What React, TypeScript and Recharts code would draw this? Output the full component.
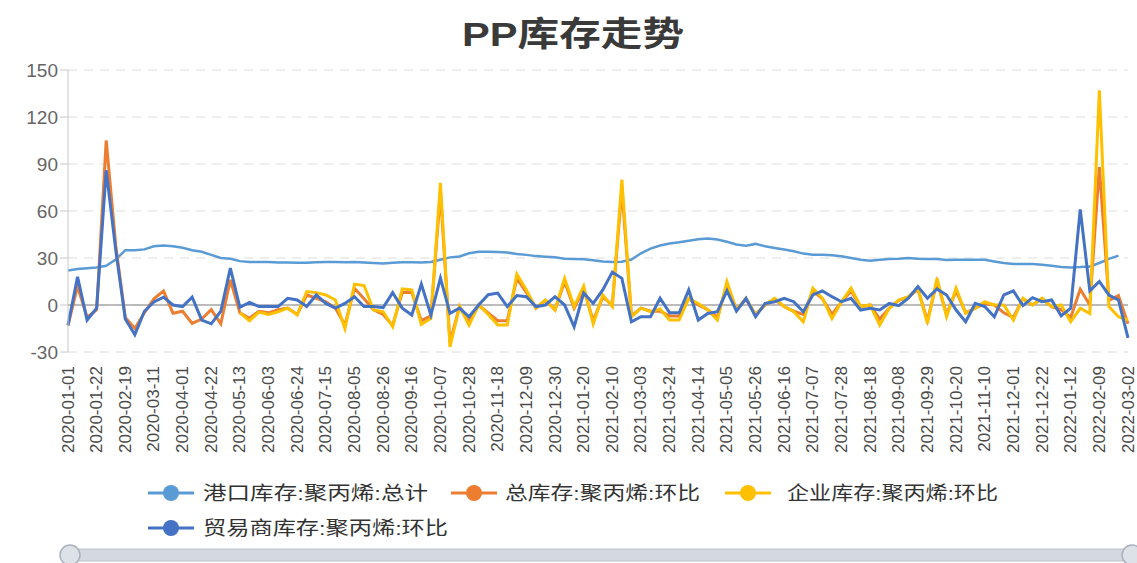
import { LineChart, Line, XAxis, YAxis, CartesianGrid, ReferenceLine } from 'recharts';

// 周度日期（春节周缺失）
const dates = [
  '2020-01-01', '2020-01-08', '2020-01-15', '2020-01-22', '2020-02-05', '2020-02-12', '2020-02-19', '2020-02-26',
  '2020-03-04', '2020-03-11', '2020-03-18', '2020-03-25', '2020-04-01', '2020-04-08', '2020-04-15', '2020-04-22',
  '2020-04-29', '2020-05-06', '2020-05-13', '2020-05-20', '2020-05-27', '2020-06-03', '2020-06-10', '2020-06-17',
  '2020-06-24', '2020-07-01', '2020-07-08', '2020-07-15', '2020-07-22', '2020-07-29', '2020-08-05', '2020-08-12',
  '2020-08-19', '2020-08-26', '2020-09-02', '2020-09-09', '2020-09-16', '2020-09-23', '2020-09-30', '2020-10-07',
  '2020-10-14', '2020-10-21', '2020-10-28', '2020-11-04', '2020-11-11', '2020-11-18', '2020-11-25', '2020-12-02',
  '2020-12-09', '2020-12-16', '2020-12-23', '2020-12-30', '2021-01-06', '2021-01-13', '2021-01-20', '2021-01-27',
  '2021-02-03', '2021-02-10', '2021-02-17', '2021-02-24', '2021-03-03', '2021-03-10', '2021-03-17', '2021-03-24',
  '2021-03-31', '2021-04-07', '2021-04-14', '2021-04-21', '2021-04-28', '2021-05-05', '2021-05-12', '2021-05-19',
  '2021-05-26', '2021-06-02', '2021-06-09', '2021-06-16', '2021-06-23', '2021-06-30', '2021-07-07', '2021-07-14',
  '2021-07-21', '2021-07-28', '2021-08-04', '2021-08-11', '2021-08-18', '2021-08-25', '2021-09-01', '2021-09-08',
  '2021-09-15', '2021-09-22', '2021-09-29', '2021-10-06', '2021-10-13', '2021-10-20', '2021-10-27', '2021-11-03',
  '2021-11-10', '2021-11-17', '2021-11-24', '2021-12-01', '2021-12-08', '2021-12-15', '2021-12-22', '2021-12-29',
  '2022-01-05', '2022-01-12', '2022-01-19', '2022-01-26', '2022-02-09', '2022-02-16', '2022-02-23', '2022-03-02',
];

// 港口库存:聚丙烯:总计
const portTotal = [
  22, 23, 23.5, 24, 25, 29, 35, 35, 35.5, 37.5, 38, 37.5, 36.5, 35, 34, 32,
  30, 29.5, 28, 27.5, 27.5, 27.5, 27.2, 27.2, 27, 27, 27.3, 27.5, 27.5, 27.3, 27.5, 27.2,
  26.8, 26.5, 27, 27.3, 27.3, 27.2, 27.4, 28.9, 30.4, 31, 33, 34, 34, 33.8, 33.5, 32.6,
  32, 31.2, 30.8, 30.5, 29.5, 29.3, 29.2, 28.5, 27.8, 27.4, 27.6, 29, 33, 36, 38, 39.2,
  40, 41, 42, 42.4, 41.8, 40.4, 38.6, 37.9, 39, 37.5, 36.4, 35.4, 34.3, 32.8, 32.1, 32.1,
  31.7, 31.1, 30, 28.9, 28.3, 28.9, 29.4, 29.6, 30, 29.6, 29.4, 29.4, 28.8, 28.9, 28.9, 28.9,
  28.9, 27.8, 26.8, 26.2, 26.1, 26.1, 25.7, 25, 24.2, 24, 24.2, 24.6, 26.8, 29.4, 31.5, null,
];

// 总库存:聚丙烯:环比
const totalChange = [
  -13, 12, -8, -3, 105, 38, -8, -15, -5, 4, 9, -5.3, -4, -11.8, -9, -3,
  -12, 16, -5, -8.5, -4, -5, -3, -2, -6, 6.4, 4.3, 2, -2, -12.8, 10.7, 4,
  -3, -6, -13, 8, 8, -10, -7, 72, -24, -1, -11, 0, -5, -10, -10, 17,
  8, -2, 3, -3, 15, -2, 10, -10, 5, 0, 74, -7, -2, -4, -4, -7,
  -7, 4, 0, -3, -8, 13, -3, 3.5, -6, 0, 3.5, -1, -4, -6, 9, 4,
  -6, 2, 9, -1, 0, -9, -2, 3, 5, 10, -10, 15, -6, 9, -5, -2,
  1, 0, -5, -8, 4, 0, 4, -1, -3, -8, 10, 0, 88, 3, 6, -12,
];

// 企业库存:聚丙烯:环比
const enterpriseChange = [
  null, null, null, null, null, null, null, null, null, null, null, null, null, null, null, null,
  null, null, -5, -10, -4.6, -6, -4.3, -2, -6.4, 8.6, 7.9, 6.4, 3.2, -15, 13.3, 12.4,
  -3.2, -4.3, -13.9, 10.3, 9.6, -12.4, -8.6, 78, -26.8, -1, -12.8, 0, -6, -12.8, -12.8, 19.7,
  9.6, -2, 3.2, -3.2, 17, -1, 12, -12, 6.4, -1, 80, -7.5, -2, -4.3, -2.5, -9.6,
  -9.6, 4.3, 1, -3.2, -9.6, 15, -3.2, 4.3, -6.4, 0.4, 4.3, -1, -4.3, -10.7, 10.7, 4.3,
  -8.6, 2.1, 10.7, -1, 0, -12.8, -2.1, 3.2, 5.3, 10.7, -11.8, 17.1, -7.5, 10.7, -5.4, -2.1,
  2.1, 0, 0, -9.6, 4.3, 0, 4.3, -1, 0, -10.7, -2.1, -5.4, 137, -1, -7.5, -9.6,
];

// 贸易商库存:聚丙烯:环比
const traderChange = [
  -13, 18, -9.6, -2, 86, 35, -9, -19, -4, 2, 5, 0, -1, 5, -9.6, -12,
  -4, 23.6, -1.5, 1.7, -1, -1, -1, 4.3, 3.2, -1, 6.4, 1, -2, 1, 5.3, -1,
  -1, -1.7, 7.9, -2, -6.4, 13.3, -6.4, 17.1, -5.3, -2, -7.5, 0, 6.6, 7.6, -1, 6,
  5.3, -1, 0, 5.3, 0, -13.9, 7.6, 1, 9.6, 21, 17, -10.7, -7.5, -7.5, 4.3, -5,
  -5, 9.6, -9.6, -5.4, -4.3, 9, -3.9, 4.3, -7.5, 1, 2.1, 4.3, 2.1, -4.3, 6.4, 9,
  5.3, 2.1, 4.3, -3.2, -2.1, -3.2, 1, -0.4, 4.3, 11.8, 4.3, 10.3, 6.4, -3.2, -10.7, 1,
  -1, -7.5, 6.4, 9, -0.4, 4.7, 2.1, 3.2, -6.9, -2.1, 61, 9, 15, 6.4, 3.2, -21,
];

const yTicks = [-30, 0, 30, 60, 90, 120, 150];

const seriesNames = ['港口库存:聚丙烯:总计', '总库存:聚丙烯:环比', '企业库存:聚丙烯:环比', '贸易商库存:聚丙烯:环比'];
const seriesColors = ['#5b9bd5', '#ed7d31', '#ffc000', '#4472c4'];

const font = "'Liberation Sans', 'Noto Sans CJK SC', sans-serif";

const chartData = dates.map((d, i) => ({
  date: d,
  port: portTotal[i],
  total: totalChange[i],
  enterprise: enterpriseChange[i],
  trader: traderChange[i],
}));

function DateTick({ x, y, payload }: any) {
  return (
    <text
      x={x}
      y={y}
      transform={`rotate(-90, ${x}, ${y})`}
      textAnchor="end"
      dominantBaseline="central"
      fill="#4a4a4a"
      fontSize={17}
      fontFamily={font}
    >
      {payload.value}
    </text>
  );
}

// 图例位置（两行）
const legendItems = [
  { cx: 171, cy: 493, tx: 203, len: 225 },
  { cx: 474, cy: 493, tx: 505, len: 195 },
  { cx: 748, cy: 493, tx: 787, len: 211 },
  { cx: 171, cy: 528, tx: 203, len: 245 },
];

export default function App() {
  return (
    <div style={{ position: 'absolute', left: 0, top: 0, width: 1137, height: 563, background: '#fff' }}>
      <LineChart width={1137} height={563} data={chartData} margin={{ top: 70, right: 9, left: 0, bottom: 0 }}>
        <CartesianGrid vertical={false} stroke="#dcdcdc" strokeDasharray="9 7" />
        <XAxis
          dataKey="date"
          interval={2}
          tick={<DateTick />}
          tickLine={false}
          axisLine={false}
          tickSize={0}
          tickMargin={14}
          height={211}
        />
        <YAxis
          width={68}
          domain={[-30, 150]}
          ticks={yTicks}
          interval={0}
          stroke="#c8c8c8"
          tickSize={8}
          tick={{ fill: '#666', fontSize: 19, fontFamily: font }}
        />
        <ReferenceLine y={0} stroke="#a8a8a8" strokeWidth={1.5} />
        <Line dataKey="port" name={seriesNames[0]} stroke={seriesColors[0]} strokeWidth={2.5} dot={false} isAnimationActive={false} type="linear" />
        <Line dataKey="total" name={seriesNames[1]} stroke={seriesColors[1]} strokeWidth={3} dot={false} isAnimationActive={false} type="linear" />
        <Line dataKey="enterprise" name={seriesNames[2]} stroke={seriesColors[2]} strokeWidth={3} dot={false} isAnimationActive={false} type="linear" />
        <Line dataKey="trader" name={seriesNames[3]} stroke={seriesColors[3]} strokeWidth={3} dot={false} isAnimationActive={false} type="linear" />
      </LineChart>
      <svg width={1137} height={563} style={{ position: 'absolute', left: 0, top: 0, pointerEvents: 'none' }}>
        <text x={573} y={46} textAnchor="middle" fontSize={34} fontWeight="bold" fill="#3a3a3a" fontFamily={font} textLength={222} lengthAdjust="spacingAndGlyphs">
          PP库存走势
        </text>
        {legendItems.map((it, i) => (
          <g key={seriesNames[i]}>
            <line x1={it.cx - 23} x2={it.cx + 23} y1={it.cy} y2={it.cy} stroke={seriesColors[i]} strokeWidth={3} />
            <circle cx={it.cx} cy={it.cy} r={8} fill={seriesColors[i]} />
            <text x={it.tx} y={it.cy} dominantBaseline="central" fontSize={19} fill="#333" fontFamily={font} textLength={it.len} lengthAdjust="spacingAndGlyphs">
              {seriesNames[i]}
            </text>
          </g>
        ))}
        {/* 底部缩放条 */}
        <rect x={62} y={549} width={1080} height={12} rx={6} fill="#d4d9e1" stroke="#b9c0cb" />
        <circle cx={70} cy={555} r={10} fill="#dde1e8" stroke="#a9b1bd" strokeWidth={1.5} />
        <circle cx={1132} cy={555} r={10} fill="#dde1e8" stroke="#a9b1bd" strokeWidth={1.5} />
      </svg>
    </div>
  );
}
